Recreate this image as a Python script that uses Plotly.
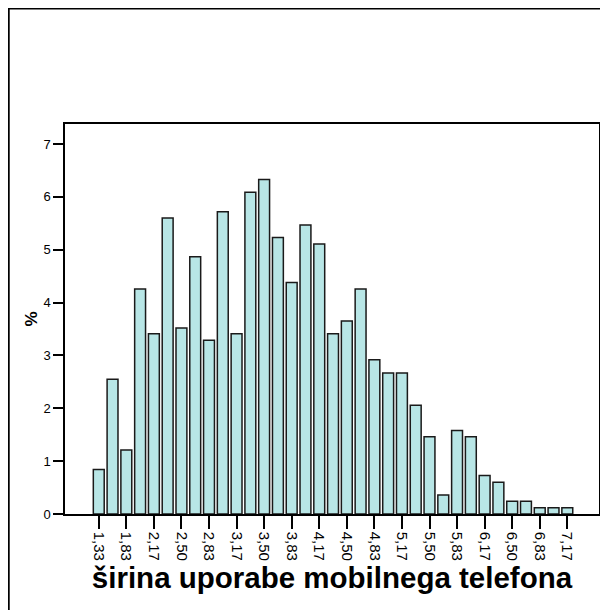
import plotly.graph_objects as go

categories = ["1,33", "1,67", "1,83", "2,00", "2,17", "2,33", "2,50", "2,67", "2,83", "3,00",
              "3,17", "3,33", "3,50", "3,67", "3,83", "4,00", "4,17", "4,33", "4,50", "4,67",
              "4,83", "5,00", "5,17", "5,33", "5,50", "5,67", "5,83", "6,00", "6,17", "6,33",
              "6,50", "6,67", "6,83", "7,00", "7,17"]
percent = [0.84, 2.55, 1.21, 4.26, 3.41, 5.60, 3.52, 4.87, 3.29, 5.72,
           3.41, 6.09, 6.33, 5.23, 4.38, 5.47, 5.11, 3.41, 3.65, 4.26,
           2.92, 2.67, 2.67, 2.06, 1.46, 0.36, 1.58, 1.46, 0.73, 0.60,
           0.24, 0.24, 0.12, 0.12, 0.12]
tick_labels = categories[::2]
y_ticks = [0, 1, 2, 3, 4, 5, 6, 7]

fig = go.Figure()
fig.add_trace(go.Bar(
    x=list(range(len(categories))),
    y=percent,
    width=0.79,
    marker=dict(color="#B8E6E6", line=dict(color="#1a1a1a", width=1.5)),
    hoverinfo="y",
))

fig.update_layout(
    width=600, height=602,
    margin=dict(l=57, r=7, t=116, b=96),
    paper_bgcolor="white", plot_bgcolor="white",
    showlegend=False,
    font=dict(family="Liberation Sans, Arial, sans-serif", color="black"),
    xaxis=dict(
        range=[-2.45, 36.3],
        tickmode="array",
        tickvals=list(range(0, len(categories), 2)),
        ticktext=tick_labels,
        tickangle=90,
        ticks="outside", ticklen=13, tickwidth=1.5, tickcolor="black",
        tickfont=dict(size=15),
        showline=True, linecolor="black", linewidth=1.5, mirror=True,
        showgrid=False, zeroline=False,
        title=dict(text="<b>širina uporabe mobilnega telefona</b>", font=dict(size=29.5), standoff=6),
    ),
    yaxis=dict(
        range=[0, 7.38],
        tickmode="array",
        tickvals=y_ticks,
        ticks="outside", ticklen=10, tickwidth=1.5, tickcolor="black",
        tickfont=dict(size=13),
        showline=True, linecolor="black", linewidth=1.5, mirror=True,
        showgrid=False, zeroline=False,
        title=dict(text="<b>%</b>", font=dict(size=17), standoff=1),
    ),
    shapes=[dict(type="rect", xref="paper", yref="paper",
                 x0=-0.1054, x1=1.2, y0=-0.6, y1=1.296,
                 line=dict(color="black", width=2), fillcolor="rgba(0,0,0,0)", layer="below")],
)

fig.write_html("out.html")
